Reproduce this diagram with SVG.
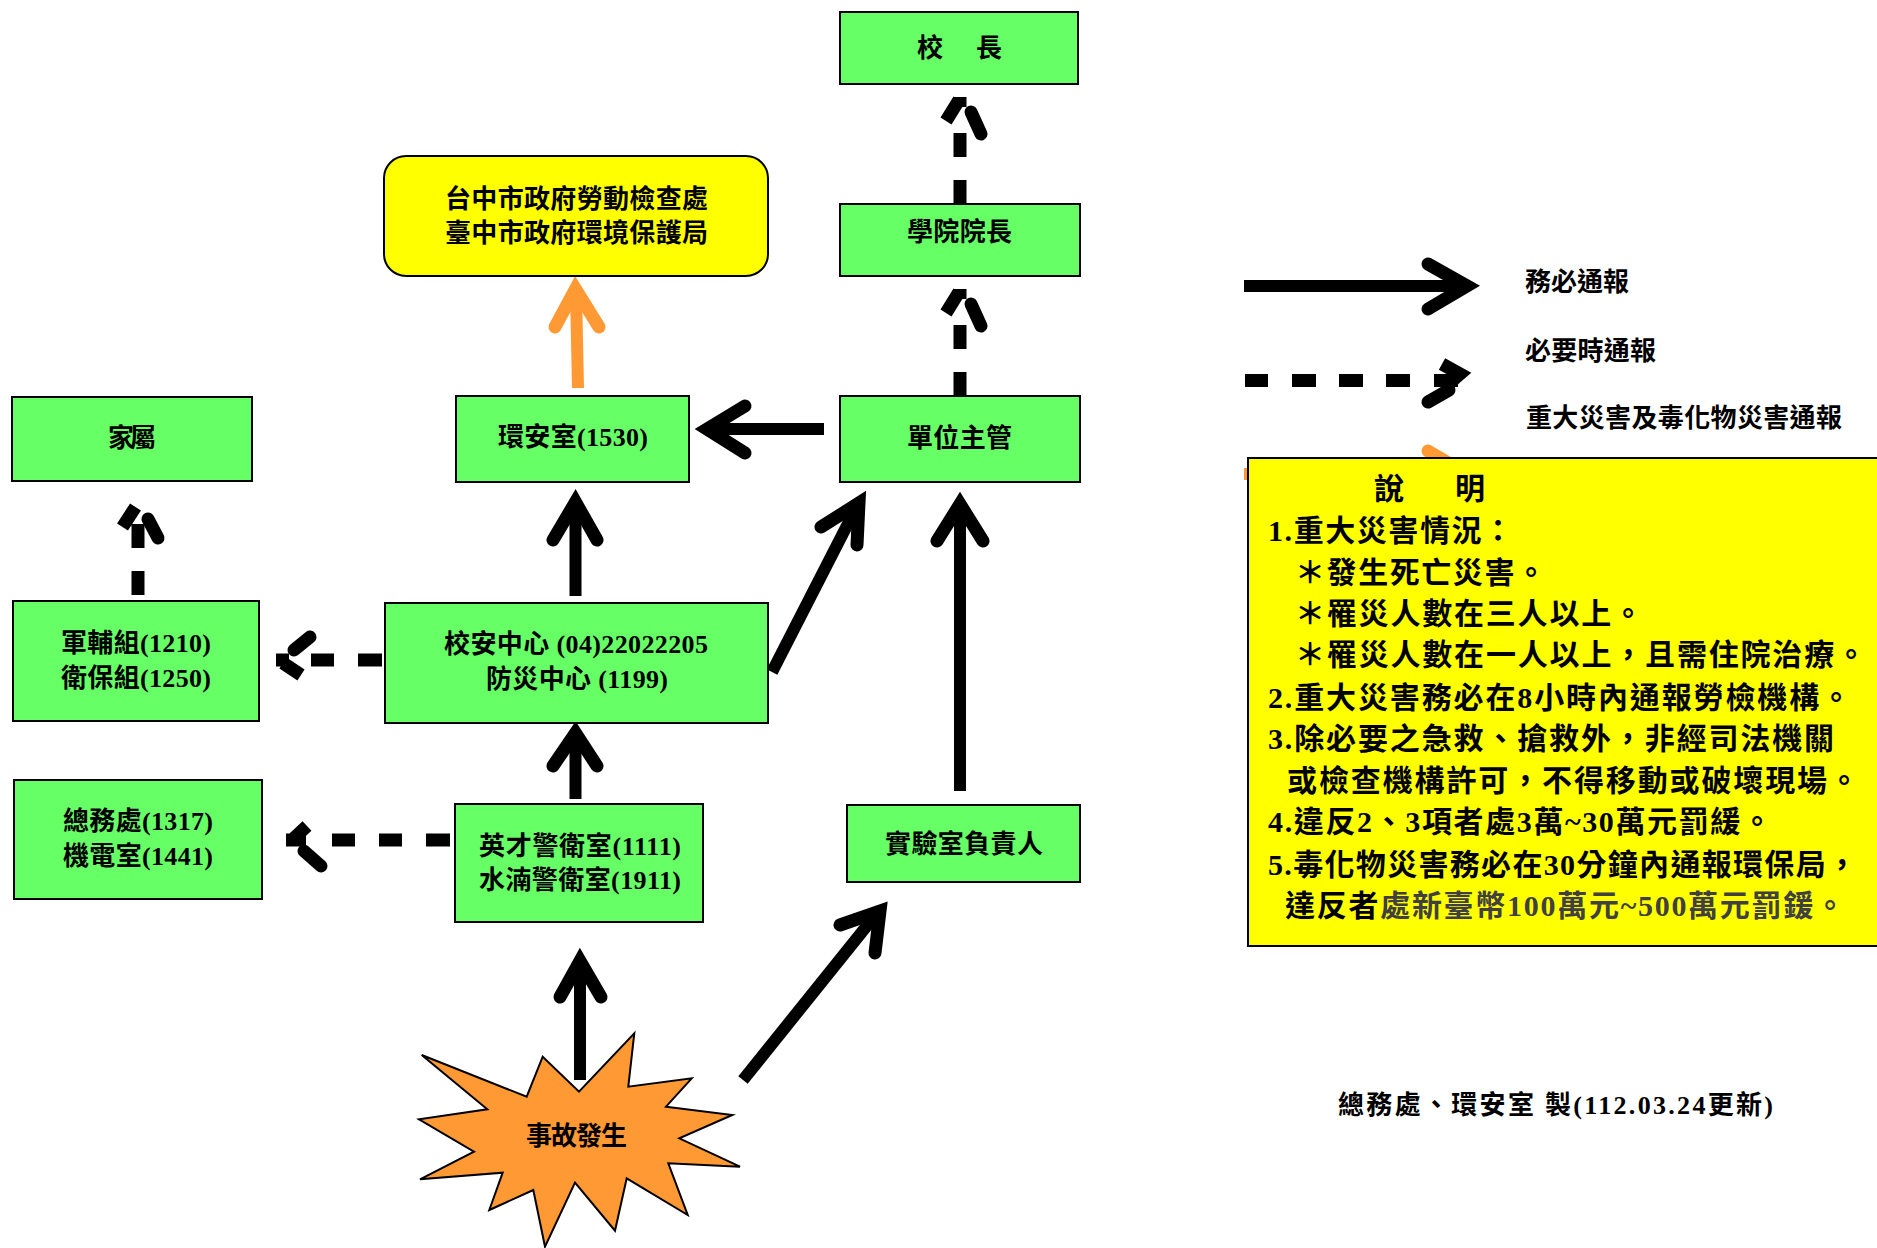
<svg xmlns="http://www.w3.org/2000/svg" width="1877" height="1248" viewBox="0 0 1877 1248">
<style>
text{font-family:"Liberation Serif","Noto Sans CJK TC",serif;font-weight:700;fill:#000;font-size:26px}
.n{fill:#66FF66;stroke:#000;stroke-width:2}
.y{fill:#FFFF00;stroke:#000;stroke-width:2}
.a{fill:none;stroke:#000;stroke-width:13;stroke-linecap:round;stroke-linejoin:miter;stroke-miterlimit:10}
.l{fill:none;stroke:#000;stroke-width:12}
.o{stroke:#FF9933}
.d{fill:none;stroke:#000;stroke-width:13}
.r{fill:none;stroke:#000;stroke-width:13;stroke-linecap:round}
.s{font-size:30px}
</style>
<rect width="1877" height="1248" fill="#fff"/>
<g id="connectors">
<path class="l o" d="M578 388L576 292"/><path class="a o" d="M555 327L575.500 289L599 327"/>
<path class="l" d="M824 429H711"/><path class="a" d="M745 406L707 429L745 453"/>
<path class="l" d="M575.500 596V506"/><path class="a" d="M553 540L575.500 502L597 540"/>
<path class="l" d="M575.500 799V736"/><path class="a" d="M553 766L575.500 733L597 766"/>
<path class="l" d="M580 1080V964"/><path class="a" d="M560 997L580 961L601 997"/>
<path class="l" d="M743 1080L878 912"/><path class="a" d="M840 925L880 911L875 953"/>
<path class="l" d="M772 672L857 506"/><path class="a" d="M821 527L859 503L857 545"/>
<path class="l" d="M960 791V508"/><path class="a" d="M937 541L960 504L983 541"/>
<path class="l" d="M1244 286H1464"/><path class="a" d="M1428 264L1467 286L1428 309"/>
<path class="l o" d="M1244 474H1464"/><path class="a o" d="M1428 451L1467 474L1428 497"/>
<g id="dash-family">
<path class="d" d="M138 595V571M138 548V524M135.500 507L122.500 527"/><path class="r" d="M148 519L158 538"/>
</g>
<g id="dash-dean">
<path class="d" d="M960 203V180M960 157V133M960 107V97M959 100L946 121"/><path class="r" d="M971 112L981 134"/>
</g>
<g id="dash-unit">
<path class="d" d="M960 395V372M960 349V325M960 299V289M959 292L946 313"/><path class="r" d="M971 304L981 326"/>
</g>
<g id="dash-center">
<path class="d" d="M382 660H358M334 660H311M289 660H276M283 663L301 675"/><path class="r" d="M294 650L310 637"/>
</g>
<g id="dash-guard">
<path class="d" d="M450 840H426M402 840H379M355 840H332M306 840H286M292 840L307 826"/><path class="r" d="M304 851L321 866"/>
</g>
<g id="dash-legend">
<path class="d" d="M1245 380.500H1268M1292 380.500H1316M1339 380.500H1363M1386 380.500H1410M1434 380.500H1458M1442 364L1460 374L1446 386"/><path class="r" d="M1428 402L1449 390"/>
</g>
</g>
<g id="n-president"><rect class="n" x="840" y="12" width="238" height="72"/><text x="917" y="57">校</text><text x="976" y="57">長</text></g>
<g id="n-dean"><rect class="n" x="840" y="204" width="240" height="72"/><text x="907" y="241" textLength="105">學院院長</text></g>
<g id="n-unit"><rect class="n" x="840" y="396" width="240" height="86"/><text x="907" y="447" textLength="105">單位主管</text></g>
<g id="n-gov"><rect class="y" x="384" y="156" width="384" height="120" rx="22"/><text x="445" y="208" textLength="263">台中市政府勞動檢查處</text><text x="445" y="242" textLength="263">臺中市政府環境保護局</text></g>
<g id="n-safety"><rect class="n" x="456" y="396" width="233" height="86"/><text x="498" y="446" textLength="150">環安室(1530)</text></g>
<g id="n-family"><rect class="n" x="12" y="397" width="240" height="84"/><text x="108" y="447" textLength="48">家屬</text></g>
<g id="n-center"><rect class="n" x="385" y="603" width="383" height="120"/><text x="444" y="653" textLength="264">校安中心 (04)22022205</text><text x="486" y="688" textLength="182">防災中心 (1199)</text></g>
<g id="n-health"><rect class="n" x="13" y="601" width="246" height="120"/><text x="61" y="652" textLength="150">軍輔組(1210)</text><text x="61" y="687" textLength="150">衛保組(1250)</text></g>
<g id="n-general"><rect class="n" x="14" y="780" width="248" height="119"/><text x="63" y="830" textLength="150">總務處(1317)</text><text x="63" y="865" textLength="150">機電室(1441)</text></g>
<g id="n-guard"><rect class="n" x="455" y="804" width="248" height="118"/><text x="479" y="855" textLength="202">英才警衛室(1111)</text><text x="479" y="889" textLength="202">水湳警衛室(1911)</text></g>
<g id="n-lab"><rect class="n" x="847" y="805" width="233" height="77"/><text x="885" y="853" textLength="158">實驗室負責人</text></g>
<g id="n-event"><polygon fill="#FF9933" stroke="#000" stroke-width="2" points="421.700,1055 526.700,1096.700 542.700,1056.700 579,1091.700 634.300,1033.300 628.300,1086.700 691.700,1078.300 666,1106.700 732.300,1115 679.300,1138.300 740,1166.700 668.300,1163.300 687.700,1215 626.700,1178.300 615,1230.700 575,1182.700 545,1246.700 533.300,1190 489.300,1210 502.700,1172.700 420,1179.300 474,1151.700 419,1119.300 487.300,1109.300"/><text x="526" y="1145" textLength="101">事故發生</text></g>
<g id="legend-text"><text x="1525" y="291" textLength="104">務必通報</text><text x="1525" y="360" textLength="131">必要時通報</text><text x="1526" y="427" textLength="316">重大災害及毒化物災害通報</text></g>
<g id="n-notes"><rect class="y" x="1248" y="458" width="640" height="488"/>
<text class="s" x="1374" y="499">說</text><text class="s" x="1455" y="499">明</text>
<text class="s" x="1268" y="541" textLength="245">1.重大災害情況：</text>
<text class="s" x="1295" y="583" textLength="251">＊發生死亡災害。</text>
<text class="s" x="1295" y="624" textLength="348">＊罹災人數在三人以上。</text>
<text class="s" x="1295" y="665" textLength="571">＊罹災人數在一人以上，且需住院治療。</text>
<text class="s" x="1268" y="708" textLength="583">2.重大災害務必在8小時內通報勞檢機構。</text>
<text class="s" x="1268" y="749" textLength="566">3.除必要之急救、搶救外，非經司法機關</text>
<text class="s" x="1287" y="791" textLength="572">或檢查機構許可，不得移動或破壞現場。</text>
<text class="s" x="1268" y="832" textLength="504">4.違反2、3項者處3萬~30萬元罰緩。</text>
<text class="s" x="1268" y="875" textLength="589">5.毒化物災害務必在30分鐘內通報環保局，</text>
<text class="s" x="1285" y="916" textLength="560">達反者<tspan fill="#404040">處新臺幣100萬元~500萬元罰鍰。</tspan></text>
</g>
<g id="footer"><text x="1338" y="1114" textLength="435">總務處、環安室 製(112.03.24更新)</text></g>
</svg>
